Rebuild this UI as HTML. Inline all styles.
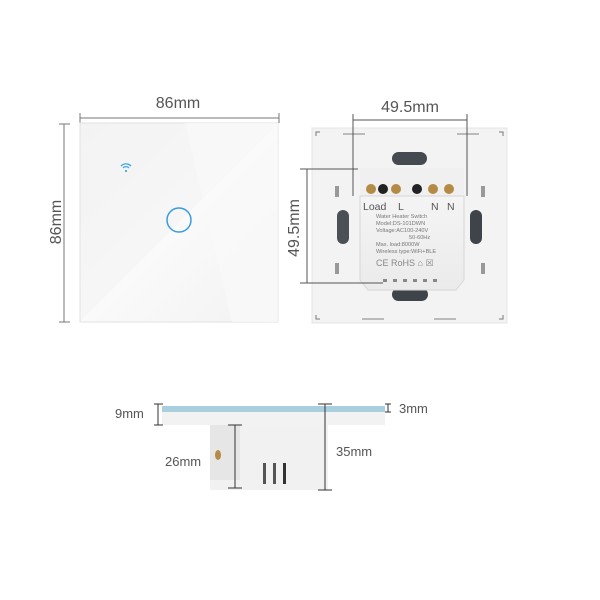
<!DOCTYPE html>
<html><head><meta charset="utf-8"><style>
html,body{margin:0;padding:0;background:#fff;}
svg{display:block;}
text{font-family:"Liberation Sans",sans-serif;}
</style></head><body>
<svg width="600" height="600" viewBox="0 0 600 600" xmlns="http://www.w3.org/2000/svg">
<defs>
<linearGradient id="g1" x1="0" y1="0" x2="1" y2="1">
<stop offset="0" stop-color="#f3f3f3"/><stop offset="0.5" stop-color="#f6f6f6"/><stop offset="0.5" stop-color="#fafafa"/><stop offset="1" stop-color="#f2f2f2"/>
</linearGradient>
<linearGradient id="gb" x1="0" y1="0" x2="0" y2="1">
<stop offset="0" stop-color="#f4f4f4"/><stop offset="1" stop-color="#ebebeb"/>
</linearGradient>
</defs>
<rect width="600" height="600" fill="#fff"/>

<!-- FRONT -->
<text x="178" y="108" font-size="16" text-anchor="middle" fill="#555">86mm</text>
<line x1="80" y1="118" x2="279" y2="118" stroke="#777" stroke-width="1"/>
<line x1="80" y1="113" x2="80" y2="123" stroke="#777"/>
<line x1="279" y1="113" x2="279" y2="123" stroke="#777"/>
<line x1="64" y1="124" x2="64" y2="322" stroke="#777"/>
<line x1="59" y1="124" x2="70" y2="124" stroke="#777"/>
<line x1="59" y1="322" x2="70" y2="322" stroke="#777"/>
<text transform="translate(61,222) rotate(-90)" font-size="16" text-anchor="middle" fill="#555">86mm</text>
<rect x="80" y="123" width="198" height="199" fill="url(#g1)" stroke="#e2e2e2"/>
<polygon points="185,123 278,123 278,322 232,322" fill="#f9f9f9" opacity="0.7"/>
<g fill="none" stroke="#3da8e6" stroke-width="1.3">
<path d="M121,166 a7,7 0 0 1 10,0"/><path d="M123,168 a4,4 0 0 1 6,0"/>
</g>
<circle cx="126" cy="171" r="1.1" fill="#3da8e6"/>
<circle cx="179" cy="220" r="12" fill="none" stroke="#3a9be0" stroke-width="1.5"/>

<!-- BACK -->
<text x="410" y="112" font-size="16" text-anchor="middle" fill="#555">49.5mm</text>
<rect x="312" y="128" width="195" height="195" fill="#f3f3f3" stroke="#e4e4e4"/>
<path d="M316,136 v-4 h4" stroke="#777" fill="none"/>
<path d="M503,136 v-4 h-4" stroke="#777" fill="none"/>
<path d="M316,315 v4 h4" stroke="#777" fill="none"/>
<path d="M503,315 v4 h-4" stroke="#777" fill="none"/>
<rect x="343" y="133" width="22" height="2" fill="#bbb"/><rect x="457" y="133" width="22" height="2" fill="#bbb"/>
<rect x="362" y="318" width="22" height="2" fill="#bbb"/><rect x="434" y="318" width="22" height="2" fill="#bbb"/>
<!-- slots -->
<rect x="392" y="152" width="35" height="13" rx="6.5" fill="#444a50"/>
<rect x="392" y="288" width="36" height="13" rx="6.5" fill="#3e444a"/>
<rect x="337" y="210" width="12" height="34" rx="6" fill="#4a5056"/>
<rect x="470" y="210" width="12" height="34" rx="6" fill="#3e444a"/>
<rect x="335" y="186" width="4" height="11" fill="#999"/><rect x="335" y="263" width="4" height="11" fill="#999"/>
<rect x="481" y="186" width="4" height="11" fill="#999"/><rect x="481" y="263" width="4" height="11" fill="#999"/>
<!-- terminal block -->
<rect x="360" y="168" width="104" height="27" fill="#f0f0f0"/>
<g>
<circle cx="371" cy="189" r="5" fill="#b58a45"/><circle cx="383" cy="189" r="5" fill="#222"/>
<circle cx="396" cy="189" r="5" fill="#b58a45"/><circle cx="417" cy="189" r="5" fill="#222"/>
<circle cx="433" cy="189" r="5" fill="#b58a45"/><circle cx="449" cy="189" r="5" fill="#b58a45"/>
</g>
<!-- module -->
<path d="M360,196 H464 V280 L456,290 H368 L360,280 Z" fill="url(#gb)" stroke="#d6d6d6"/>
<text x="363" y="210" font-size="10.5" fill="#555">Load</text>
<text x="398" y="210" font-size="10.5" fill="#555">L</text>
<text x="431" y="210" font-size="10.5" fill="#555">N</text>
<text x="447" y="210" font-size="10.5" fill="#555">N</text>
<g font-size="5.6" fill="#777">
<text x="376" y="218">Water Heater Switch</text>
<text x="376" y="225">Model:DS-101DWN</text>
<text x="376" y="232">Voltage:AC100-240V</text>
<text x="409" y="239">50-60Hz</text>
<text x="376" y="246">Max. load:8000W</text>
<text x="376" y="253">Wireless type:WiFi+BLE</text>
</g>
<text x="376" y="266" font-size="9" fill="#888">CE RoHS ⌂ ☒</text>
<g fill="#888"><rect x="383" y="279" width="4" height="3"/><rect x="393" y="279" width="4" height="3"/><rect x="403" y="279" width="4" height="3"/><rect x="413" y="279" width="4" height="3"/><rect x="423" y="279" width="4" height="3"/><rect x="433" y="279" width="4" height="3"/></g>
<!-- dims -->
<line x1="353" y1="114" x2="353" y2="196" stroke="#555"/>
<line x1="467" y1="114" x2="467" y2="196" stroke="#555"/>
<line x1="353" y1="120" x2="467" y2="120" stroke="#555"/>
<line x1="300" y1="169" x2="358" y2="169" stroke="#555"/>
<line x1="300" y1="283" x2="383" y2="283" stroke="#555"/>
<line x1="307" y1="169" x2="307" y2="283" stroke="#555"/>
<text transform="translate(299,228) rotate(-90)" font-size="16" text-anchor="middle" fill="#555">49.5mm</text>

<!-- SIDE -->
<rect x="162" y="411" width="223" height="14" fill="#f2f2f2"/>
<rect x="162" y="406" width="223" height="6" fill="#a9cfdf"/>
<rect x="210" y="425" width="118" height="65" fill="#f1f1f1"/>
<rect x="210" y="425" width="30" height="55" fill="#e6e6e6"/>
<ellipse cx="218" cy="455" rx="3" ry="5" fill="#b58a45"/>
<rect x="263" y="463" width="3" height="21" fill="#555"/><rect x="273" y="463" width="3" height="21" fill="#555"/><rect x="283" y="463" width="3" height="21" fill="#333"/>
<g stroke="#333">
<line x1="158" y1="404" x2="158" y2="425"/><line x1="154" y1="404" x2="163" y2="404"/><line x1="154" y1="425" x2="163" y2="425"/>
<line x1="388" y1="404" x2="388" y2="412"/><line x1="385" y1="404" x2="391" y2="404"/><line x1="385" y1="412" x2="391" y2="412"/>
<line x1="325" y1="404" x2="325" y2="490"/><line x1="318" y1="404" x2="332" y2="404"/><line x1="318" y1="490" x2="332" y2="490"/>
<line x1="235" y1="425" x2="235" y2="488"/><line x1="228" y1="425" x2="242" y2="425"/><line x1="228" y1="488" x2="242" y2="488"/>
</g>
<text x="115" y="418" font-size="13" fill="#555">9mm</text>
<text x="399" y="413" font-size="13" fill="#555">3mm</text>
<text x="165" y="466" font-size="13" fill="#555">26mm</text>
<text x="336" y="456" font-size="13" fill="#555">35mm</text>
</svg>
</body></html>
